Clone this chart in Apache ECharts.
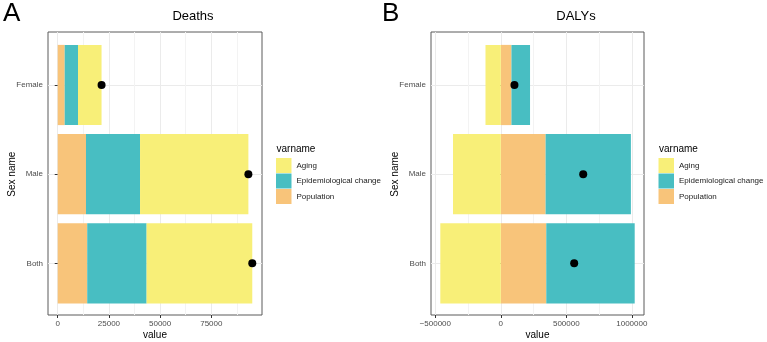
<!DOCTYPE html>
<html>
<head>
<meta charset="utf-8">
<script src="https://cdn.jsdelivr.net/npm/echarts@6/dist/echarts.min.js"></script>
<style>
  html, body { margin: 0; padding: 0; background: #fff; }
  #chart { width: 767px; height: 342px; }
</style>
</head>
<body>
<div id="chart"></div>
<script>
  // categories
  const sexNames = ['Both', 'Male', 'Female']
  const varNames = ['Aging', 'Epidemiological change', 'Population']
  // Deaths decomposition
  const deathsPopulation = [14400, 13800, 3400]
  const deathsEpi = [29000, 26400, 6500]
  const deathsAging = [51600, 52900, 11500]
  const deathsTotal = [95000, 93100, 21400]
  // DALYs decomposition
  const dalysPopulation = [347000, 342000, 81000]
  const dalysEpi = [675000, 651000, 142000]
  const dalysAging = [-462000, -365000, -117000]
  const dalysTotal = [560000, 629000, 104000]
  // tick labels / grid lines
  const deathsTicks = [0, 25000, 50000, 75000]
  const deathsMinor = [12500, 37500, 62500, 87500]
  const dalysTicks = [-500000, 0, 500000, 1000000]
  const dalysMinor = [-250000, 250000, 750000]

  const FONT = 'Liberation Sans, Arial, sans-serif'
  const colors = {
    'Aging': '#F8EF78',
    'Epidemiological change': '#48BEC2',
    'Population': '#F8C47A'
  }

  const chart = echarts.init(document.getElementById('chart'), null, { renderer: 'canvas' })

  // one panel = outer grid (border, x axis, vertical grid lines) + inner grid (bars, categories)
  function panel(idx, left, width, range, ticks, minor, data) {
    const outer = idx * 2
    const inner = idx * 2 + 1
    const grids = [
      { left: left, top: 32, width: width, height: 283, outerBoundsMode: 'none', show: true, borderColor: '#5a5a5a', borderWidth: 1, backgroundColor: 'transparent' },
      { left: left, top: 85, width: width, height: 178.3, outerBoundsMode: 'none' }
    ]
    const xAxes = [
      {
        gridIndex: outer, type: 'value', min: range[0], max: range[1],
        name: 'value', nameLocation: 'middle', nameGap: 15, nameMoveOverlap: false,
        nameTextStyle: { fontFamily: FONT, fontSize: 10, color: '#000' },
        axisLine: { show: false },
        axisTick: { show: true, length: 3, customValues: ticks, lineStyle: { color: '#333' } },
        axisLabel: {
          customValues: ticks, margin: 5, fontFamily: FONT, fontSize: 8, color: '#4d4d4d',
          formatter: (v) => (v < 0 ? '\u2212' + Math.abs(v) : String(v))
        },
        splitLine: { show: false }
      },
      { gridIndex: inner, type: 'value', min: range[0], max: range[1], show: false }
    ]
    const yAxes = [
      { gridIndex: outer, type: 'value', min: 0, max: 1, show: false },
      {
        gridIndex: inner, type: 'category', data: sexNames, boundaryGap: false,
        name: 'Sex name', nameLocation: 'middle', nameGap: 31, nameRotate: 90, nameMoveOverlap: false,
        nameTextStyle: { fontFamily: FONT, fontSize: 10, color: '#000' },
        axisLine: { show: false },
        axisTick: { show: true, length: 3, lineStyle: { color: '#333' } },
        axisLabel: { margin: 5, fontFamily: FONT, fontSize: 8, color: '#4d4d4d' },
        splitLine: { show: true, lineStyle: { color: '#ebebeb', width: 1 } }
      }
    ]
    const gridLines = (vals, color) => ({
      type: 'scatter', xAxisIndex: outer, yAxisIndex: outer, data: [], z: 0, silent: true,
      markLine: {
        z: 0, silent: true, symbol: ['none', 'none'], label: { show: false },
        lineStyle: { color: color, width: 1, type: 'solid' },
        data: vals.map((v) => ({ xAxis: v }))
      }
    })
    const series = [gridLines(minor, '#f3f3f3'), gridLines(ticks, '#ebebeb')]
    data.bars.forEach((b) => {
      series.push({
        type: 'bar', name: b.name, stack: 'p' + idx, data: b.values,
        xAxisIndex: inner, yAxisIndex: inner, barWidth: '90%', clip: false,
        itemStyle: { color: colors[b.name] }, z: 2
      })
    })
    series.push({
      type: 'scatter', name: 'total', data: data.total, xAxisIndex: inner, yAxisIndex: inner,
      symbol: 'circle', symbolSize: 8, itemStyle: { color: '#000', opacity: 1 }, z: 5
    })
    return { grids, xAxes, yAxes, series }
  }

  const pA = panel(0, 48, 214, [-4750, 99750], deathsTicks, deathsMinor, {
    bars: [
      { name: 'Population', values: deathsPopulation },
      { name: 'Epidemiological change', values: deathsEpi },
      { name: 'Aging', values: deathsAging }
    ],
    total: deathsTotal
  })
  const pB = panel(1, 431, 213, [-533000, 1093000], dalysTicks, dalysMinor, {
    bars: [
      { name: 'Population', values: dalysPopulation },
      { name: 'Epidemiological change', values: dalysEpi },
      { name: 'Aging', values: dalysAging }
    ],
    total: dalysTotal
  })

  const legendBase = {
    orient: 'vertical', top: 158, padding: 0, data: varNames, icon: 'rect',
    itemWidth: 15.5, itemHeight: 15, itemGap: 0.5, selectedMode: false,
    textStyle: { fontFamily: FONT, fontSize: 8, color: '#222' }
  }

  const text = (x, y, str, size, align) => ({
    type: 'text', x: x, y: y,
    style: { text: str, font: size + 'px ' + FONT, fill: '#000', textAlign: align, textVerticalAlign: 'middle' }
  })

  chart.setOption({
    animation: false,
    backgroundColor: '#fff',
    grid: pA.grids.concat(pB.grids),
    xAxis: pA.xAxes.concat(pB.xAxes),
    yAxis: pA.yAxes.concat(pB.yAxes),
    series: pA.series.concat(pB.series),
    legend: [
      Object.assign({}, legendBase, { left: 276 }),
      Object.assign({}, legendBase, { left: 658.5 })
    ],
    graphic: [
      text(3, 14, 'A', 26, 'left'),
      text(382, 14, 'B', 26, 'left'),
      text(193, 16, 'Deaths', 13, 'center'),
      text(576, 16, 'DALYs', 13, 'center'),
      text(276.5, 149, 'varname', 10, 'left'),
      text(659, 149, 'varname', 10, 'left')
    ]
  })
</script>
</body>
</html>
